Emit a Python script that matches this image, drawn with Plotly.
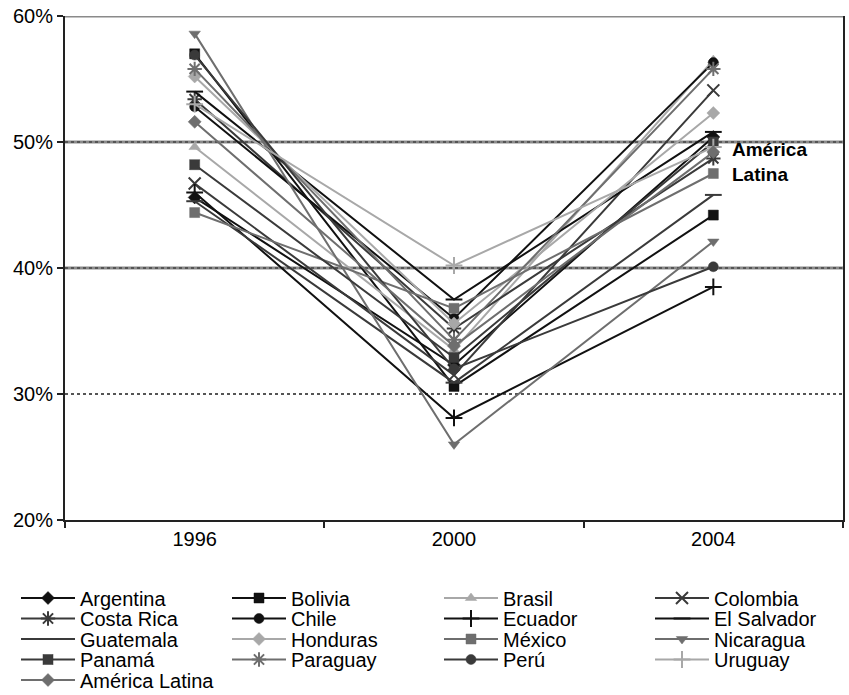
import plotly.graph_objects as go

years = ["1996", "2000", "2004"]
countries = ["Argentina", "Bolivia", "Brasil", "Colombia", "Costa Rica", "Chile",
             "Ecuador", "El Salvador", "Guatemala", "Honduras", "México", "Nicaragua",
             "Panamá", "Paraguay", "Perú", "Uruguay", "América Latina"]
v1996 = [45.6, 57.0, 49.6, 46.7, 53.4, 52.8, 46.0, 54.0, 45.3, 55.2, 44.4, 58.6,
         48.2, 55.8, 56.9, 53.0, 51.6]
v2000 = [32.3, 30.6, 33.5, 31.5, 35.2, 36.0, 28.1, 37.5, 30.9, 35.6, 36.8, 26.0,
         32.9, 34.3, 32.0, 40.2, 33.8]
v2004 = [50.4, 44.2, 56.5, 54.1, 48.7, 56.3, 38.5, 50.8, 45.8, 52.3, 47.5, 42.1,
         50.0, 55.8, 40.1, 49.6, 49.2]
y_ticks = [20, 30, 40, 50, 60]
y_tick_labels = ["20%", "30%", "40%", "50%", "60%"]
thick_grid = [40, 50, 60]

FONT = "Liberation Sans, Arial, sans-serif"
BLACK, DARK, MID, LIGHT = "#111111", "#3a3a3a", "#6e6e6e", "#a8a8a8"
styles = [
    (BLACK, "diamond"), (BLACK, "square"), (LIGHT, "triangle-up"), (DARK, "x-thin"),
    (DARK, "asterisk"), (BLACK, "circle"), (BLACK, "cross-thin"), (BLACK, "line-ew"),
    (DARK, "line-ew"), (LIGHT, "diamond"), (MID, "square"), (MID, "triangle-down"),
    (DARK, "square-x"), (MID, "asterisk"), (DARK, "circle"), (LIGHT, "cross-thin"),
    (MID, "diamond"),
]

W, H = 849, 695

def legend_key(i):
    row, half = i // 4, (i % 4) // 2
    n = row * 2 + half
    return "legend" if n == 0 else f"legend{n + 1}"

fig = go.Figure()
for i, name in enumerate(countries):
    col, sym = styles[i]
    thin = sym in ("x-thin", "asterisk", "cross-thin", "line-ew")
    fig.add_trace(go.Scatter(
        x=years, y=[v1996[i], v2000[i], v2004[i]], name=name,
        mode="lines+markers",
        line=dict(color=col, width=2),
        marker=dict(symbol=sym, size=12 if thin else 10, color=col,
                    line=dict(color=col, width=2 if thin else 0.5)),
        legend=legend_key(i),
    ))

for g in thick_grid:
    fig.add_shape(type="line", xref="paper", yref="y", x0=0, x1=1, y0=g, y1=g,
                  line=dict(color="#8a8a8a", width=3), layer="below")

fig.add_annotation(x=2, y=48.4, xref="x", yref="y", text="<b>América<br>Latina</b>",
                   showarrow=False, xanchor="left", yanchor="middle", xshift=17,
                   align="left", font=dict(family=FONT, size=19, color="#000"))

row_px = [598, 618.5, 639, 659.5, 680]   # pixel centres of legend rows
half_px = [16, 439]                      # x of the two legend halves
legend_common = dict(orientation="h", xref="container", yref="container",
                     xanchor="left", yanchor="middle",
                     entrywidth=142, entrywidthmode="pixels",
                     font=dict(family=FONT, size=20, color="#000"),
                     itemwidth=54, bgcolor="rgba(0,0,0,0)", borderwidth=0)
legends = {}
for r, py in enumerate(row_px):
    for h, hx in enumerate(half_px):
        n = r * 2 + h
        key = "legend" if n == 0 else f"legend{n + 1}"
        legends[key] = dict(legend_common, x=hx / W, y=1 - py / H)

fig.update_layout(
    width=W, height=H,
    margin=dict(l=65, r=6, t=16, b=175),
    paper_bgcolor="white", plot_bgcolor="white",
    font=dict(family=FONT, size=20, color="#000"),
    showlegend=True,
    **legends,
)
fig.update_xaxes(type="category", range=[-0.5, 2.5], showgrid=False,
                 showline=True, linecolor="#222", linewidth=2,
                 ticks="outside", tickson="boundaries", ticklen=6, tickcolor="#222",
                 tickwidth=2, tickfont=dict(size=20), automargin=False)
fig.update_yaxes(range=[20, 60], tickvals=y_ticks, ticktext=y_tick_labels,
                 showgrid=True, gridcolor="#555", gridwidth=1.5, griddash="dot",
                 showline=True, mirror=True, linecolor="#222", linewidth=2,
                 ticks="outside", ticklen=6, tickcolor="#222", tickwidth=2,
                 tickfont=dict(size=20), zeroline=False, automargin=False)

fig.write_html("out.html", config={"displayModeBar": False},
               post_script="document.body.style.margin='0';")
